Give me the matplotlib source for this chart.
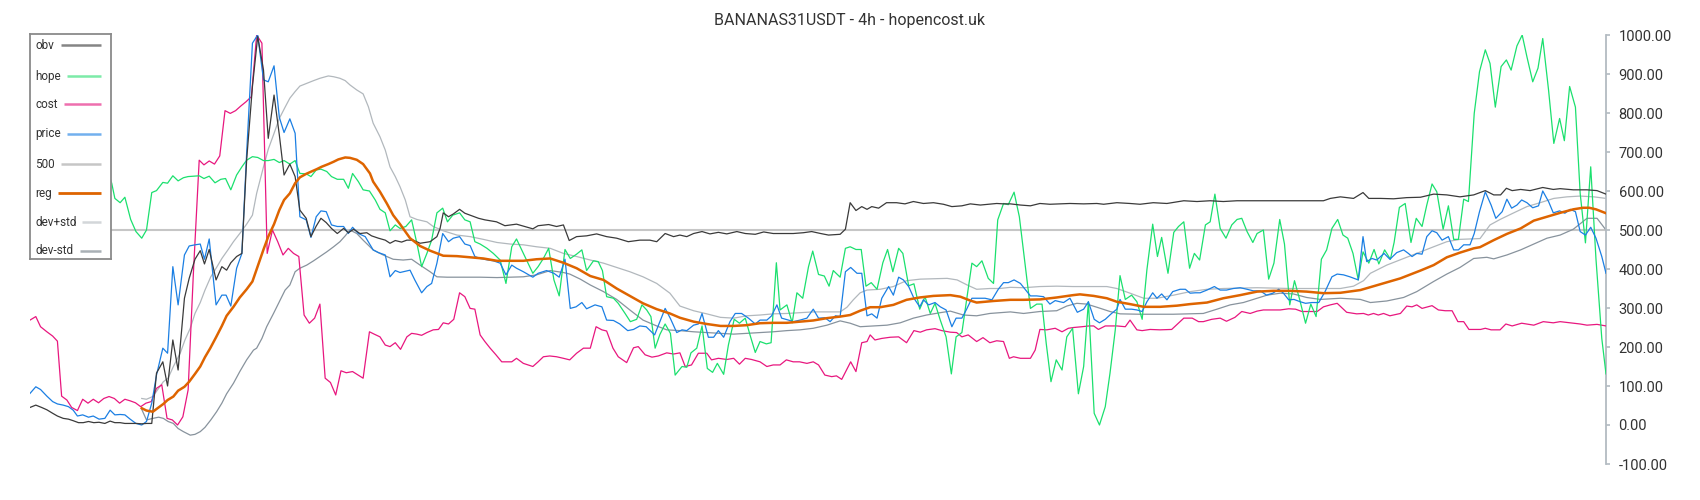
import matplotlib.pyplot as plt
from matplotlib.ticker import FixedLocator, FormatStrFormatter

plt.rcParams['font.family'] = ['Roboto', 'DejaVu Sans']

title = "BANANAS31USDT - 4h - hopencost.uk"

# bar index / value readings, one pair of lists per series
obv_i = [0, 1.1, 2.2, 3.2, 4.3, 5.2, 6.3, 7.3, 8.2, 9.2, 10.1, 11.1, 12.1, 13.1, 14.2, 15.2, 16.1, 17.1, 18, 19.3,
         20.2, 21.2, 22.1, 23.1, 24, 25.2, 26.1, 27.1, 28.1, 29.3, 30.2, 31.3, 32.3, 33.1, 34, 35.3, 36.4, 37.3, 38.1, 39.2,
         40.2, 41.1, 42.2, 43.2, 44.3, 45.2, 46.3, 47.3, 48.2, 49.3, 50.3, 51.2, 52.4, 53.3, 54.3, 55.2, 56.2, 57.2, 58.3, 59.5,
         60.4, 61.4, 62.6, 63.9, 64.8, 66.1, 67.4, 68.3, 69.3, 70.5, 71.5, 72.7, 74, 75.9, 77.2, 77.8, 78.4, 79.4, 80.3, 81.5,
         82.5, 83.5, 85.1, 86.3, 88.5, 90.1, 92.3, 93.6, 95.4, 96.4, 98.4, 99.9, 101.2, 102.3, 103.7, 105.6, 107.5, 109.4, 111.3, 113.5,
         115.7, 117.6, 118.9, 120.5, 122.1, 123.3, 124.6, 125.9, 127.5, 129, 130.6, 132.2, 134.1, 135.7, 137.6, 139.2, 141, 142.9, 144.8, 146.7,
         148.3, 150, 151.5, 153.7, 154.7, 155.6, 156.7, 157.8, 158.8, 159.7, 161, 162.5, 164.4, 166, 167.6, 169.5, 171.4, 173.3, 174.9, 176.8,
         178.4, 180.3, 181.9, 183.4, 184.7, 186, 187.9, 189.8, 191.6, 193.5, 195.4, 197.3, 199.9, 202.4, 203.7, 206.2, 208.7, 210.6, 213.1, 215.7,
         218.9, 221.4, 223.9, 226.4, 229, 232.8, 239.1, 245.4, 246.7, 248.6, 251.1, 252.9, 254, 256.2, 258.7, 261.2, 263.8, 266.3, 268.8, 271.3,
         273.9, 276.1, 277.7, 279, 280.1, 281.2, 282.8, 284.6, 287, 289, 290.3, 292.8, 295.4, 297.3, 299]
obv_v = [45, 51, 45, 39, 30, 23, 17, 15, 11, 6, 6, 9, 6, 7, 4, 10, 6, 6, 4, 4,
         4, 3, 4, 4, 133, 162, 100, 218, 141, 325, 376, 425, 447, 413, 450, 372, 406, 397, 416, 432,
         440, 679, 868, 996, 910, 735, 846, 744, 641, 669, 637, 551, 530, 483, 510, 530, 519, 504, 491, 504,
         493, 502, 491, 493, 485, 479, 474, 466, 473, 469, 474, 474, 466, 470, 483, 504, 544, 534, 541, 553,
         543, 538, 530, 526, 521, 511, 515, 510, 503, 511, 514, 509, 513, 473, 483, 485, 490, 483, 479, 470,
         474, 474, 470, 491, 483, 487, 483, 491, 496, 490, 494, 490, 496, 491, 489, 495, 491, 491, 491, 493,
         496, 491, 487, 489, 502, 570, 550, 560, 553, 560, 556, 570, 570, 567, 573, 568, 570, 566, 560, 562,
         567, 564, 566, 568, 567, 567, 564, 562, 568, 566, 567, 568, 567, 568, 566, 570, 568, 566, 570, 568,
         575, 573, 575, 573, 575, 575, 575, 575, 581, 585, 581, 596, 581, 581, 580, 583, 584, 592, 590, 585,
         590, 601, 590, 590, 607, 601, 604, 601, 609, 604, 606, 603, 603, 601, 592]

hope_i = [15, 15.5, 16.1, 17.1, 18, 19.1, 20.1, 21.2, 22.1, 23.1, 24, 25.2, 26.1, 27.1, 28.1, 29.1, 30, 31, 32.1, 33,
          34, 35.1, 36.2, 37.1, 38.1, 39.2, 40.2, 41.1, 42.2, 43.2, 44.3, 45.2, 46.3, 47.3, 48.2, 49.3, 50.3, 51.2, 52.4, 53.3,
          54.3, 55.2, 56.3, 57.2, 58.3, 59.5, 60.4, 61.2, 62.3, 63.2, 64.4, 65.5, 66.4, 67.4, 68.3, 69.3, 70.2, 71.3, 72.4, 73.4,
          74.3, 75.3, 76.2, 77.2, 78.3, 79.2, 80.2, 81.5, 82.5, 83.5, 84.4, 85.4, 86.7, 87.9, 89.2, 90.3, 91.4, 92.3, 93.6, 95.4,
          96.4, 97.4, 98.4, 99.4, 100.4, 101.5, 102.5, 103.7, 104.7, 105.6, 106.9, 107.8, 108.6, 109.4, 110.7, 111.6, 112.9, 113.9, 115.1, 116.1,
          117, 117.8, 118.6, 119.5, 120.5, 121.5, 122.4, 123.7, 124.6, 125.4, 126.5, 127.5, 128.5, 129.5, 130.4, 131.6, 132.5, 133.6, 134.6, 135.7,
          136.6, 137.6, 138.5, 139.7, 140.6, 141.6, 142.3, 143.6, 144.6, 145.5, 146.6, 147.7, 148.5, 149.6, 150.7, 151.6, 152.4, 153.7, 154.7, 155.6,
          156.7, 157.7, 158.6, 159.6, 160.7, 161.8, 162.7, 163.7, 164.8, 165.6, 166.7, 167.7, 168.8, 169.8, 170.8, 171.7, 172.7, 173.8, 174.8, 175.7,
          176.8, 178.7, 179.6, 180.6, 181.8, 182.8, 183.6, 184.7, 185.6, 186.7, 187.7, 188.8, 189.8, 191, 192, 192.8, 193.7, 194.7, 195.8, 196.7,
          197.8, 198.9, 199.9, 200.8, 201.9, 202.9, 204, 204.9, 205.9, 206.8, 207.8, 209, 210, 211, 211.9, 213, 213.9, 214.7, 215.9, 217,
          217.9, 218.9, 220, 220.9, 221.9, 223, 223.9, 224.8, 225.8, 226.9, 228, 229, 229.9, 230.9, 232, 232.8, 234, 235, 236, 237.1,
          238, 239, 239.9, 240.9, 242, 243, 244, 245, 246, 247, 248.1, 249.1, 250, 251, 252, 252.9, 254, 255, 255.9, 257,
          258.1, 258.8, 259.8, 260.9, 262, 263, 264.1, 265, 266, 266.9, 268.1, 269.1, 270.1, 271, 272, 272.9, 274, 275, 276.1, 277,
          278, 279.1, 280.1, 281, 282.1, 283.1, 284, 285.1, 286.1, 287, 288.1, 289.1, 290.2, 291.1, 292.1, 293.2, 294.1, 295.1, 296.1, 297.1,
          298.2, 299]
hope_v = [640, 620, 581, 570, 584, 527, 496, 479, 500, 596, 601, 622, 620, 639, 626, 634, 637, 638, 639, 632,
          638, 621, 630, 632, 603, 641, 662, 679, 688, 686, 678, 678, 681, 673, 678, 669, 678, 645, 644, 637,
          654, 656, 650, 637, 630, 630, 607, 645, 624, 603, 600, 577, 553, 544, 498, 513, 504, 509, 526, 466,
          406, 440, 474, 544, 556, 521, 538, 544, 526, 521, 470, 464, 453, 440, 423, 363, 457, 477, 440, 389,
          406, 427, 453, 372, 331, 450, 427, 438, 449, 396, 421, 419, 396, 329, 325, 312, 286, 265, 271, 308,
          295, 278, 197, 232, 259, 235, 128, 150, 148, 185, 197, 254, 145, 135, 158, 130, 205, 271, 261, 274,
          231, 186, 214, 208, 211, 416, 295, 308, 262, 339, 325, 406, 446, 386, 382, 356, 396, 379, 453, 457,
          450, 450, 356, 365, 348, 416, 450, 393, 453, 440, 357, 362, 297, 329, 286, 312, 269, 226, 131, 226,
          237, 415, 406, 421, 376, 363, 526, 568, 565, 597, 534, 410, 299, 310, 310, 209, 111, 167, 141, 226,
          248, 80, 150, 316, 30, 0, 47, 133, 244, 383, 322, 333, 316, 271, 398, 515, 432, 481, 389, 494,
          509, 521, 402, 440, 423, 513, 521, 592, 504, 479, 513, 527, 530, 496, 468, 491, 500, 374, 415, 527,
          464, 308, 370, 321, 261, 310, 278, 425, 449, 504, 527, 487, 479, 440, 372, 444, 415, 450, 413, 449,
          425, 468, 558, 568, 468, 530, 509, 564, 618, 598, 502, 562, 476, 476, 579, 573, 799, 906, 962, 927,
          815, 919, 936, 910, 972, 1000, 944, 880, 915, 991, 859, 722, 786, 729, 868, 815, 594, 467, 662, 425,
          222, 131]

cost_i = [0, 1.1, 2, 3.2, 4.3, 5.2, 6, 7, 7.9, 9, 10, 11, 12, 13, 14, 15, 16, 17, 18, 19,
          20, 21, 22, 23, 24, 25, 26, 27, 28, 29, 30, 31, 32.1, 33, 34, 35, 36, 37, 38, 39,
          40, 41, 42, 43, 44, 45, 46, 47, 48, 49, 50, 51, 52, 53, 54, 55, 56, 57, 58, 59,
          60, 61.2, 63.2, 64.4, 65.3, 66.4, 67.4, 68.3, 69.3, 70.3, 71.5, 72.4, 73.4, 74.3, 75.3, 76.5, 77.5, 78.4, 79.4, 80.4,
          81.5, 82.5, 83.5, 84.4, 85.4, 86.3, 87.3, 88.4, 89.5, 90.4, 91.4, 92.3, 93.6, 94.5, 95.4, 96.4, 97.4, 98.6, 99.9, 101.2,
          102.4, 103.7, 105, 106.3, 107.4, 108.5, 109.4, 110.6, 111.6, 113.2, 114.5, 115.4, 116.7, 118, 119.2, 120.8, 122.1, 123.3, 124.3, 125.5,
          126.8, 128.4, 129.3, 130.6, 132.2, 133.5, 134.6, 135.7, 136.9, 138.5, 139.8, 141, 142.3, 143.5, 144.8, 146, 147.4, 148.6, 149.6, 150.8,
          152.1, 153, 154, 155.7, 156.7, 157.8, 158.8, 159.4, 160.3, 161.6, 163.2, 164.8, 166.3, 167.7, 168.9, 170.1, 171.7, 173, 174.6, 175.8,
          176.8, 178, 179.6, 180.8, 182.1, 183.4, 184.7, 185.8, 186.6, 187.9, 189.8, 190.7, 191.6, 192.9, 194.5, 195.8, 197, 198, 199.6, 200.9,
          201.8, 202.7, 204, 206.2, 207.8, 208.7, 210, 211, 212.5, 214.4, 216.6, 218.9, 220.5, 221.7, 222.6, 224.2, 225.8, 227, 228.6, 229.9,
          231.5, 232.8, 234, 235.6, 237.2, 238.8, 240.1, 241.3, 242.9, 244.2, 245.4, 246.7, 248, 249.8, 251.7, 253, 253.9, 254.9, 255.8, 256.8,
          258, 260, 261.2, 262.2, 263.1, 264.1, 266, 267.2, 268.5, 269.8, 270.9, 272, 273, 275.2, 276.1, 277.2, 278.9, 280, 281.2, 283,
          285.3, 287.1, 289, 290.3, 292.2, 294.1, 295.4, 297.3, 299]
cost_v = [269, 278, 252, 239, 228, 215, 74, 64, 45, 37, 66, 56, 66, 57, 68, 73, 68, 56, 66, 62,
          57, 47, 56, 60, 94, 103, 17, 13, 0, 21, 90, 390, 679, 667, 677, 669, 690, 806, 799, 806,
          818, 829, 842, 1000, 979, 440, 500, 470, 436, 453, 440, 432, 282, 261, 274, 310, 120, 109, 77, 139,
          134, 137, 120, 239, 233, 226, 205, 201, 211, 194, 226, 235, 233, 230, 237, 244, 245, 262, 259, 271,
          339, 329, 299, 297, 231, 214, 197, 180, 162, 162, 162, 171, 158, 154, 150, 162, 175, 177, 175, 171,
          167, 184, 197, 197, 252, 244, 241, 197, 175, 160, 198, 201, 180, 174, 177, 185, 182, 185, 150, 154,
          184, 184, 167, 171, 168, 171, 156, 171, 168, 162, 150, 154, 154, 167, 162, 162, 158, 162, 154, 128,
          124, 126, 117, 162, 137, 211, 214, 231, 218, 222, 225, 226, 211, 242, 238, 244, 247, 242, 238, 237,
          226, 231, 214, 224, 211, 216, 214, 171, 175, 171, 171, 192, 245, 244, 248, 239, 248, 250, 252, 254,
          254, 245, 254, 254, 252, 269, 244, 242, 245, 244, 245, 274, 274, 265, 265, 271, 274, 266, 276, 291,
          286, 292, 295, 295, 295, 298, 297, 291, 291, 291, 303, 308, 312, 289, 285, 286, 282, 286, 282, 286,
          280, 286, 305, 303, 308, 299, 306, 295, 293, 293, 265, 265, 245, 245, 248, 244, 244, 259, 254, 261,
          256, 265, 262, 265, 262, 259, 256, 258, 254]

price_i = [0, 1.1, 2, 3.2, 4.3, 5.2, 6.3, 7.3, 8.2, 9, 10, 11.1, 12, 13.1, 14.2, 15.2, 16.1, 17.1, 18, 19,
           20.1, 21.2, 22.1, 23.1, 24, 25.2, 26.1, 27.1, 28.1, 29.3, 30.2, 31.3, 32.3, 33.1, 34, 35.3, 36.4, 37.2, 38.1, 39.2,
           40.2, 41.1, 42.2, 43.2, 44.3, 45.2, 46.3, 47.3, 48.2, 49.3, 50.3, 51.2, 52.4, 53.3, 54.3, 55.2, 56.2, 57.2, 58.3, 59.5,
           60.4, 61.2, 62.3, 63.6, 65.1, 66.1, 67.4, 68.3, 69.3, 70.2, 72.1, 73, 74.3, 75.3, 76.2, 77.2, 78.3, 79.4, 80.3, 81.5,
           82.5, 83.5, 84.4, 85.4, 86.9, 87.9, 89.2, 90.3, 91.4, 92.3, 93.6, 95.4, 96.4, 98, 99.4, 100.4, 101.5, 102.5, 103.6, 104.7,
           105.6, 107.2, 108.5, 109.4, 110.7, 111.9, 113.4, 114.5, 115.7, 116.9, 118.5, 120.5, 121.5, 122.7, 123.7, 124.6, 125.9, 126.8, 127.5, 128.7,
           129.7, 130.6, 131.6, 132.8, 133.8, 135, 136.3, 137.6, 138.5, 139.8, 140.7, 141.7, 142.6, 143.9, 144.8, 146.1, 147.4, 148.6, 149.6, 150.8,
           151.8, 152.8, 153.7, 154.7, 155.7, 156.9, 157.8, 158.8, 159.7, 160.7, 161.6, 162.9, 163.8, 164.8, 165.7, 166.7, 167.7, 168.8, 169.5, 170.5,
           171.7, 172.7, 173.8, 174.9, 175.7, 176.8, 177.7, 178.7, 179.9, 181.2, 182.5, 183.7, 184.7, 185.6, 186.7, 187.9, 188.8, 189.8, 191, 192.3,
           193.5, 194.5, 195.4, 196.1, 197.3, 198.7, 199.9, 200.8, 201.9, 202.9, 204, 205.2, 206.2, 206.8, 207.8, 209, 210, 211, 211.9, 213,
           213.8, 214.7, 215.7, 216.8, 218.2, 219.2, 220.1, 221.1, 222, 223.3, 224.7, 225.8, 227, 228.3, 229.6, 230.9, 232.1, 233.4, 234.6, 235.8,
           236.9, 237.8, 238.8, 239.8, 241, 242, 243.2, 244.5, 245.7, 247, 248, 249.2, 250.4, 252, 252.9, 253.6, 254.6, 255.5, 256.9, 258,
           259.3, 260.6, 261.5, 262.2, 263.1, 264.1, 265, 266, 266.9, 267.9, 269.1, 270.1, 271, 272, 273.2, 274, 275, 276.1, 277.2, 278.1,
           279.3, 280.2, 281.1, 282.1, 283, 284, 285.1, 286.2, 287, 288.1, 289, 290.2, 291.2, 292.2, 293.2, 294.1, 295.1, 296.1, 297.1, 298.2,
           299]
price_v = [81, 98, 91, 74, 60, 54, 51, 47, 38, 23, 26, 20, 23, 15, 17, 38, 26, 27, 26, 15,
           4, 0, 9, 56, 128, 197, 184, 406, 308, 436, 459, 462, 464, 425, 477, 308, 333, 333, 305, 402,
           440, 697, 979, 1000, 885, 880, 921, 789, 750, 785, 748, 534, 526, 481, 534, 549, 547, 513, 509, 509,
           491, 507, 491, 483, 449, 442, 436, 380, 396, 391, 397, 372, 339, 355, 363, 415, 491, 470, 479, 483,
           464, 460, 432, 427, 423, 421, 415, 385, 410, 402, 393, 379, 389, 396, 389, 379, 425, 299, 303, 314,
           298, 308, 303, 269, 268, 259, 242, 245, 254, 252, 231, 299, 273, 237, 244, 242, 256, 259, 286, 225,
           225, 242, 225, 265, 286, 286, 274, 259, 269, 269, 280, 308, 274, 269, 265, 269, 274, 297, 274, 275,
           265, 280, 278, 393, 404, 389, 389, 280, 285, 274, 325, 355, 333, 379, 372, 355, 325, 303, 321, 308,
           314, 303, 295, 252, 274, 274, 297, 325, 325, 325, 321, 348, 365, 365, 372, 363, 348, 331, 331, 329,
           310, 319, 316, 314, 325, 289, 297, 316, 271, 262, 271, 286, 297, 322, 297, 297, 295, 291, 316, 339,
           325, 336, 321, 342, 348, 348, 338, 339, 339, 346, 355, 346, 346, 350, 352, 348, 344, 344, 333, 338,
           348, 338, 321, 322, 316, 312, 314, 314, 342, 380, 387, 385, 380, 372, 483, 419, 427, 423, 440, 425,
           442, 449, 440, 432, 440, 438, 483, 498, 493, 474, 483, 449, 449, 462, 462, 491, 547, 598, 564, 530,
           547, 579, 556, 564, 577, 570, 557, 562, 600, 573, 544, 549, 543, 553, 547, 496, 487, 507, 479, 432,
           389]

reg_i = [21.2, 22.1, 23.3, 24.4, 25.3, 26.1, 27.2, 28.1, 29.3, 30.2, 31.3, 32.3, 33.2, 34.2, 35.3, 36.4, 37.3, 38.6, 39.8, 41.1,
         42.2, 43, 44.3, 45.2, 46.3, 47.3, 48.2, 49.3, 50.3, 51.2, 52.4, 53.4, 54.4, 55.3, 56.6, 57.6, 58.5, 59.8, 60.7, 62,
         63.2, 64.5, 65.1, 66.4, 67.7, 68.9, 70.2, 72.1, 74, 75.9, 78.4, 81, 83.5, 86, 88.6, 91.1, 93.6, 96.1, 98.7, 101.2,
         103.7, 106.3, 108.8, 111.3, 113.8, 116.3, 118.9, 121.4, 123.3, 125.9, 128.4, 131, 133.5, 136, 138.5, 141, 143.6, 146.1, 148.6, 151.2,
         153.7, 155.6, 157.5, 159.4, 161.3, 163.8, 166.3, 168.8, 171.4, 174.6, 176.5, 178.4, 179.6, 182.8, 186, 188.5, 191.6, 194.8, 197.9, 199.2,
         201.8, 204.3, 206.2, 208.7, 211.3, 214.4, 217.6, 220.1, 223.3, 226.4, 229.6, 232.8, 235.9, 239.1, 242.2, 245.4, 248.6, 252.4, 256.2, 260,
         263.8, 266.3, 268.8, 271.3, 273.9, 275.1, 277.7, 280.2, 282.8, 285.3, 287.8, 290.3, 292.8, 294.6, 295.8, 297.1, 299]
reg_v = [43, 37, 34, 45, 54, 64, 73, 88, 98, 111, 131, 150, 174, 197, 225, 254, 280, 303, 327, 348,
         368, 399, 450, 483, 515, 551, 577, 594, 620, 635, 644, 650, 656, 662, 669, 675, 681, 686, 685, 680,
         669, 645, 624, 598, 568, 538, 515, 479, 459, 447, 434, 433, 430, 427, 421, 421, 421, 425, 427, 416,
         402, 382, 372, 350, 331, 312, 297, 286, 275, 265, 259, 254, 254, 256, 261, 262, 262, 265, 268, 274,
         278, 282, 293, 302, 302, 308, 321, 327, 331, 333, 329, 319, 314, 318, 321, 321, 322, 327, 333, 335,
         331, 325, 316, 310, 303, 303, 306, 310, 314, 325, 333, 342, 344, 344, 342, 338, 339, 346, 361, 376,
         396, 410, 430, 442, 453, 456, 474, 490, 504, 524, 534, 544, 553, 557, 557, 553, 543]

dev_up_i = [21.2, 22.1, 23.3, 24.4, 25.3, 26.2, 27.2, 28.5, 29.4, 30.4, 31.3, 32.3, 33.2, 34.3, 35.4, 36.4, 37.6, 38.6, 39.8, 41.1,
            42.2, 43, 44.3, 45.2, 46.2, 47.3, 48.4, 49.3, 50.3, 51.2, 52.5, 53.8, 55, 56.6, 57.6, 58.8, 59.8, 60.7, 62, 63.2,
            64.2, 65.1, 66.4, 67.4, 68.3, 69.3, 70.2, 71.2, 72.1, 73.4, 75.3, 76.5, 78.4, 81, 83.5, 86, 88.6, 91.1, 93.6, 96.1,
            98.7, 101.2, 103.7, 106.3, 108.8, 111.3, 113.8, 116.3, 118.9, 121.4, 123.3, 125.9, 128.4, 131, 133.5, 136, 138.5, 141, 143.6, 146.1,
            148.6, 153.7, 155, 156.2, 157.5, 158.8, 161.3, 163.8, 165.1, 166.3, 168.9, 171.4, 174, 175.9, 177.8, 179.6, 182.1, 184, 186, 188.5,
            191.6, 194.8, 197.9, 201.1, 204.3, 206.2, 208.7, 211.3, 213.8, 217, 220.1, 223.3, 226.4, 232.8, 239.1, 245.4, 248.6, 251.1, 253, 254.3,
            257.4, 260.6, 263.8, 266.3, 268.8, 271.3, 275.1, 277, 278.9, 281.5, 284, 286.5, 289.1, 291.6, 294.1, 296.7, 299]
dev_up_v = [68, 66, 73, 94, 111, 120, 150, 184, 218, 248, 286, 314, 346, 380, 404, 427, 450, 470, 491, 515,
            538, 594, 662, 707, 744, 786, 815, 838, 855, 869, 876, 883, 889, 895, 893, 889, 883, 872, 859, 849,
            816, 774, 739, 705, 662, 637, 611, 577, 534, 527, 521, 509, 498, 487, 483, 476, 468, 464, 462, 457,
            453, 440, 432, 423, 415, 404, 393, 380, 363, 338, 305, 293, 285, 276, 274, 280, 282, 285, 286, 288,
            290, 290, 302, 321, 339, 346, 348, 355, 363, 370, 374, 375, 376, 372, 359, 348, 350, 350, 353, 352,
            355, 356, 355, 355, 355, 350, 338, 325, 325, 333, 342, 348, 350, 352, 350, 350, 350, 356, 370, 389,
            410, 427, 444, 457, 470, 476, 478, 513, 527, 544, 560, 570, 581, 585, 587, 585, 581]

dev_dn_i = [21.2, 22.1, 23.3, 24.4, 25.3, 26.2, 27.2, 28.1, 29.1, 30.4, 31.3, 32.3, 33.2, 34.3, 35.4, 36.4, 37.3, 38.6, 39.8, 41.1,
            42.4, 43, 44, 44.9, 46.2, 47.3, 48.4, 49.3, 50.3, 51.2, 52.5, 53.8, 55, 56.3, 57.6, 58.8, 59.8, 60.7, 62, 63.2,
            65.1, 67, 68.9, 70.8, 72.4, 74, 75.9, 77.2, 79.1, 82.2, 85.4, 88.6, 91.1, 93.6, 96.1, 98.7, 101.2, 102.4, 104.4, 106.3,
            108.8, 111.3, 113.8, 116.3, 118.9, 120.8, 123.3, 125.9, 128.4, 131, 133.5, 136, 138.5, 141, 143.6, 146.1, 148.6, 151.2, 153.7, 155.6,
            157.5, 160, 162.6, 165.1, 167.6, 170.1, 172.7, 174.6, 177.1, 179.6, 182.1, 186, 188.5, 191.6, 194.8, 196.7, 198.6, 200.5, 202.4, 204.9,
            206.8, 210.6, 216.9, 220.1, 222.6, 225.2, 227.7, 230.2, 232.8, 234.7, 237.2, 239.7, 242.2, 244.8, 248.6, 252.4, 254.3, 257.4, 260.6, 263.1,
            266.3, 268.8, 271.3, 273.9, 276.4, 277.7, 280.2, 282.8, 285.3, 287.8, 290.3, 292.8, 295.4, 297.3, 299]
dev_dn_v = [40, 13, 17, 20, 17, 9, 4, -9, -17, -26, -24, -17, -6, 13, 34, 56, 80, 107, 137, 167,
            192, 197, 222, 252, 286, 316, 346, 359, 393, 402, 410, 421, 432, 444, 457, 470, 485, 500, 491, 474,
            449, 436, 425, 423, 425, 410, 393, 380, 379, 379, 379, 378, 379, 380, 385, 396, 391, 387, 374, 359,
            342, 322, 295, 269, 254, 244, 242, 239, 237, 235, 233, 235, 237, 239, 242, 244, 248, 256, 267, 261,
            252, 254, 256, 262, 274, 282, 288, 292, 282, 280, 286, 290, 286, 291, 293, 305, 312, 310, 302, 291,
            285, 284, 284, 285, 286, 297, 308, 314, 325, 333, 338, 336, 327, 322, 325, 322, 314, 318, 327, 342,
            368, 387, 404, 427, 430, 426, 436, 449, 464, 479, 487, 502, 530, 530, 500]

level_500 = 500
y_ticks = [-100, 0, 100, 200, 300, 400, 500, 600, 700, 800, 900, 1000]

labels = ["obv", "hope", "cost", "price", "500", "reg", "dev+std", "dev-std"]
colors = ["#3a3a3a", "#1be06e", "#e8177f", "#1b7fe3", "#c6c6c6", "#de6400", "#b2b8bd", "#88939d"]
legend_colors = ["#858585", "#7ceba8", "#ee6fae", "#72b0ee", "#c6c6c6", "#de6400", "#d3d6d9", "#a9b0b5"]

W, H = 1700, 500
fig = plt.figure(figsize=(W / 100, H / 100), dpi=100)
ax = fig.add_axes([30 / W, 1 - 464 / H, (1606 - 30) / W, (464 - 35) / H])

ax.plot(dev_dn_i, dev_dn_v, color=colors[7], lw=0.9, zorder=2)
ax.plot(dev_up_i, dev_up_v, color=colors[6], lw=0.9, zorder=2)
ax.axhline(level_500, color=colors[4], lw=1.5, zorder=1)
ax.plot(cost_i, cost_v, color=colors[2], lw=0.9, zorder=3)
ax.plot(hope_i, hope_v, color=colors[1], lw=0.9, zorder=3)
ax.plot(price_i, price_v, color=colors[3], lw=0.9, zorder=4)
ax.plot(obv_i, obv_v, color=colors[0], lw=0.9, zorder=4)
ax.plot(reg_i, reg_v, color=colors[5], lw=1.8, zorder=5)

ax.set_xlim(0, 299)
ax.set_ylim(-100, 1000)
for s in ["left", "top", "bottom"]:
    ax.spines[s].set_visible(False)
ax.spines["right"].set_color("#b3bbc2")
ax.spines["right"].set_linewidth(1.3)
ax.set_xticks([])
ax.yaxis.tick_right()
ax.yaxis.set_major_locator(FixedLocator(y_ticks))
ax.yaxis.set_major_formatter(FormatStrFormatter("%.2f"))
ax.tick_params(axis="y", direction="out", length=3, width=1.2, color="#b3bbc2",
               labelsize=10.5, labelcolor="#333333", pad=6)

fig.text(850 / W, 1 - 21 / H, title, ha="center", va="center", fontsize=11.5, color="#333333")

# legend box drawn by hand: label first, then a line sample that fills the row
lax = fig.add_axes([30 / W, 1 - 259 / H, 81 / W, 225 / H], zorder=10)
lax.set_xlim(30, 111)
lax.set_ylim(259, 34)
lax.set_xticks([])
lax.set_yticks([])
lax.set_facecolor("white")
for s in lax.spines.values():
    s.set_color("#8a8a8a")
    s.set_linewidth(1.3)
row_y = [45, 76, 104, 134, 164, 193, 222, 251]
sample_x0 = [61, 67, 64, 67, 61, 58, 82, 80]
for lab, c, y, x0 in zip(labels, legend_colors, row_y, sample_x0):
    lax.text(35, y, lab, ha="left", va="center", fontsize=8.5, color="#333333")
    lax.plot([x0, 101], [y, y], color=c, lw=1.8 if lab != "reg" else 2.0, solid_capstyle="butt")

fig.savefig("out.png", dpi=100)
